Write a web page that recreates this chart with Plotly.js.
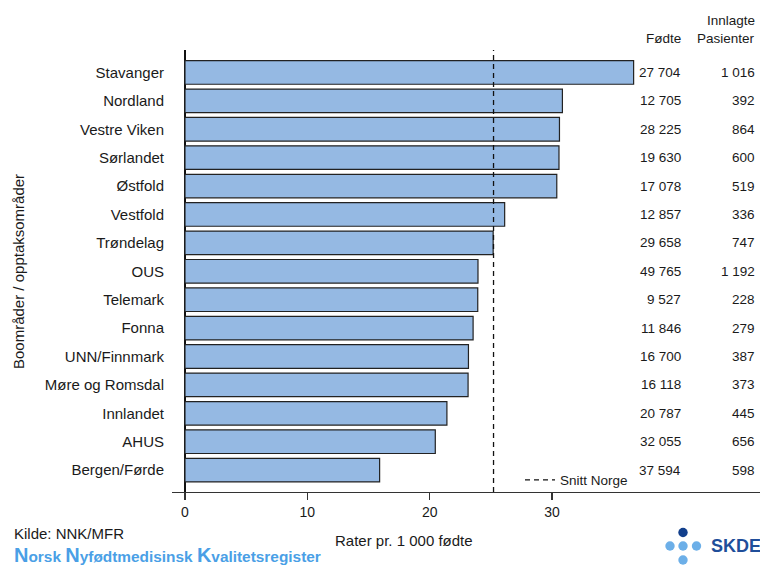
<!DOCTYPE html>
<html>
<head>
<meta charset="utf-8">
<script src="https://cdn.plot.ly/plotly-3.0.1.min.js"></script>
<style>
  html, body { margin: 0; padding: 0; background: #fff; }
  #chart { width: 760px; height: 565px; }
</style>
</head>
<body>
<div id="chart"></div>
<script>
// ---- Data ----
const omrader = ["Stavanger", "Nordland", "Vestre Viken", "Sørlandet", "Østfold", "Vestfold",
  "Trøndelag", "OUS", "Telemark", "Fonna", "UNN/Finnmark", "Møre og Romsdal",
  "Innlandet", "AHUS", "Bergen/Førde"];
const rater = [36.67, 30.85, 30.61, 30.57, 30.39, 26.13, 25.19, 23.95, 23.93, 23.55,
  23.17, 23.14, 21.41, 20.46, 15.91];
const fodte = [27704, 12705, 28225, 19630, 17078, 12857, 29658, 49765, 9527, 11846,
  16700, 16118, 20787, 32055, 37594];
const innlagte = [1016, 392, 864, 600, 519, 336, 747, 1192, 228, 279, 387, 373, 445, 656, 598];
const snittNorge = 25.22;
const xTicks = [0, 10, 20, 30];

// ---- Helpers ----
function fmt(n) {
  return String(n).replace(/\B(?=(\d{3})+(?!\d))/g, " ");
}

const FONT = "Liberation Sans, Arial, sans-serif";
const TXT = "#1a1a1a";

const barTrace = {
  type: "bar",
  orientation: "h",
  x: rater,
  y: omrader,
  marker: { color: "#95B9E3", line: { color: "#222", width: 1.2 } },
  showlegend: false,
  hoverinfo: "x+y"
};

const annotations = [];
// table columns
omrader.forEach((o, i) => {
  annotations.push({ xref: "paper", yref: "y", x: 0.869, y: o, text: fmt(fodte[i]),
    xanchor: "right", yanchor: "middle", showarrow: false, font: { size: 13.5, color: TXT, family: FONT } });
  annotations.push({ xref: "paper", yref: "y", x: 0.9955, y: o, text: fmt(innlagte[i]),
    xanchor: "right", yanchor: "middle", showarrow: false, font: { size: 13.5, color: TXT, family: FONT } });
});
// headers
annotations.push({ xref: "paper", yref: "paper", x: 0.869, y: 1, yshift: 12, text: "Fødte",
  xanchor: "right", yanchor: "middle", showarrow: false, font: { size: 13.5, color: TXT, family: FONT } });
annotations.push({ xref: "paper", yref: "paper", x: 0.9955, y: 1, yshift: 12, text: "Pasienter",
  xanchor: "right", yanchor: "middle", showarrow: false, font: { size: 13.5, color: TXT, family: FONT } });
annotations.push({ xref: "paper", yref: "paper", x: 0.9955, y: 1, yshift: 30, text: "Innlagte",
  xanchor: "right", yanchor: "middle", showarrow: false, font: { size: 13.5, color: TXT, family: FONT } });
// axis titles
annotations.push({ xref: "paper", yref: "paper", x: (404 - 172) / 588, y: 0, yshift: -48,
  text: "Rater pr. 1 000 fødte", xanchor: "center", yanchor: "middle", showarrow: false,
  font: { size: 15, color: TXT, family: FONT } });
annotations.push({ xref: "paper", yref: "paper", x: 0, xshift: -154, y: (492 - 272) / 442,
  text: "Boområder / opptaksområder", textangle: -90, xanchor: "center", yanchor: "middle",
  showarrow: false, font: { size: 15, color: TXT, family: FONT } });
// source
annotations.push({ xref: "paper", yref: "paper", x: 0, xshift: -160, y: 0, yshift: -41,
  text: "Kilde: NNK/MFR", xanchor: "left", yanchor: "middle", showarrow: false,
  font: { size: 15, color: TXT, family: FONT } });
annotations.push({ xref: "paper", yref: "paper", x: 0, xshift: -160, y: 0, yshift: -63,
  text: "<b><span style='font-size:20px'>N</span>orsk <span style='font-size:20px'>N</span>yfødtmedisinsk <span style='font-size:20px'>K</span>valitetsregister</b>",
  xanchor: "left", yanchor: "middle", showarrow: false,
  font: { size: 15.4, color: "#4A9FE6", family: FONT } });
// logo text
annotations.push({ xref: "paper", yref: "paper", x: 1, xshift: 3, y: 0, yshift: -54,
  text: "<b>SKDE</b>", xanchor: "right", yanchor: "middle", showarrow: false,
  font: { size: 18, color: "#1F4E9A", family: FONT } });

function dot(cx, cy, r, color) {
  // logo dots in pixel offsets relative to the paper
  const px = (v) => (v - 172) / 588;
  const py = (v) => (492 - v) / 442;
  return { type: "circle", xref: "paper", yref: "paper",
    x0: px(cx - r), x1: px(cx + r), y0: py(cy + r), y1: py(cy - r),
    fillcolor: color, line: { width: 0 } };
}

const shapes = [
  { type: "line", xref: "x", yref: "paper", x0: snittNorge, x1: snittNorge, y0: 0, y1: 1,
    line: { color: "#111", width: 1.3, dash: "5px,4px" }, showlegend: true, name: "Snitt Norge" },
  dot(683, 532.5, 4.7, "#123F8C"),
  dot(670, 546, 4.7, "#6CAFE8"),
  dot(683, 546, 4.7, "#6CAFE8"),
  dot(696.5, 546, 4.7, "#6CAFE8"),
  dot(683, 560, 4.7, "#6CAFE8")
];

const layout = {
  width: 760, height: 565,
  margin: { l: 172, r: 0, t: 50, b: 73, pad: 0 },
  paper_bgcolor: "#fff", plot_bgcolor: "#fff",
  font: { family: FONT, color: TXT, size: 14 },
  bargap: 0.17,
  showlegend: true,
  legend: { x: (520 - 172) / 588, xanchor: "left", y: 12 / 442, yanchor: "middle",
    bgcolor: "rgba(0,0,0,0)", font: { size: 13.5, color: TXT, family: FONT }, itemwidth: 30 },
  xaxis: {
    range: [-1.06, 47.0], tickvals: xTicks, ticktext: xTicks.map(String),
    showgrid: false, zeroline: true, zerolinecolor: "#111", zerolinewidth: 1.2,
    showline: true, linecolor: "#333", linewidth: 1.2,
    ticks: "outside", ticklen: 7, tickcolor: "#333", tickwidth: 1.2,
    tickfont: { size: 14, color: TXT, family: FONT }, fixedrange: true
  },
  yaxis: {
    type: "category", categoryorder: "array", categoryarray: omrader,
    range: [14.77, -0.79], showgrid: false, zeroline: false, showline: false,
    ticks: "", ticklabelstandoff: 7,
    tickfont: { size: 15, color: TXT, family: FONT }, fixedrange: true
  },
  annotations: annotations,
  shapes: shapes
};

Plotly.newPlot("chart", [barTrace], layout, { displayModeBar: false, staticPlot: true });
</script>
</body>
</html>
